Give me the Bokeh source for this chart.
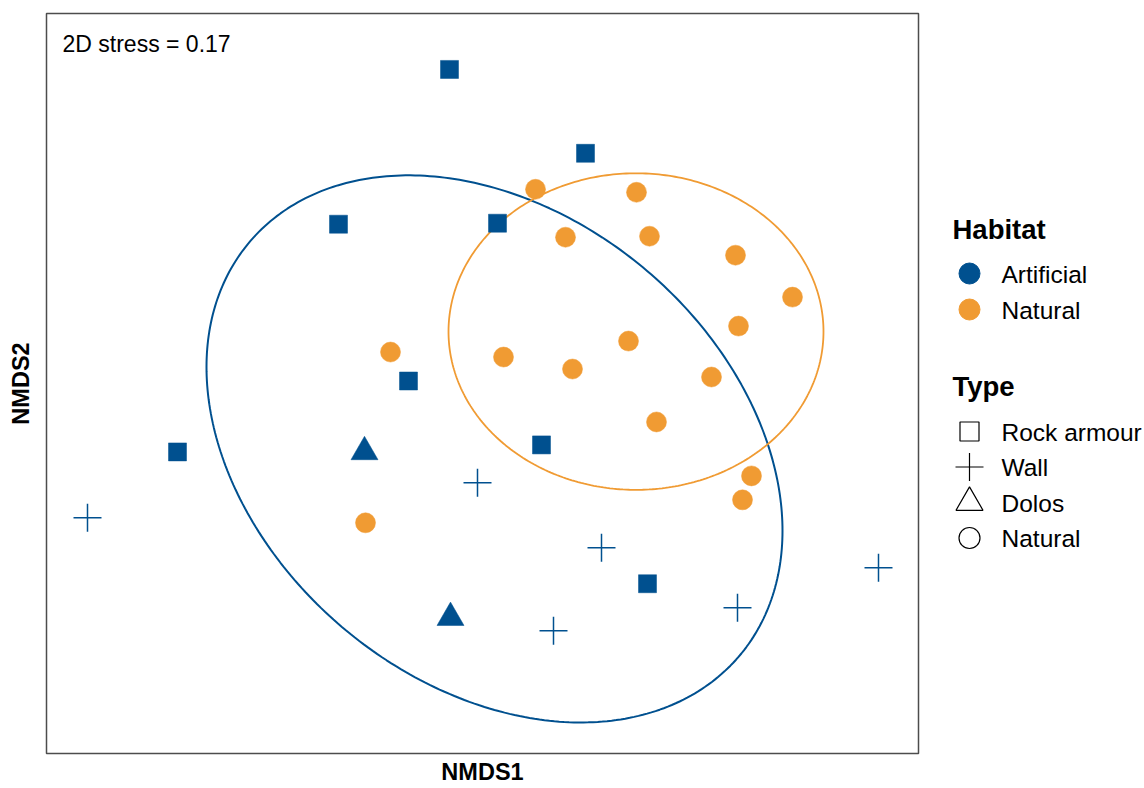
import numpy as np
from bokeh.plotting import figure
from bokeh.layouts import row
from bokeh.models import Range1d, FixedTicker, Label
from bokeh.core.properties import value
from bokeh.embed import file_html
from bokeh.resources import INLINE

BLUE = "#00508F"
ORANGE = "#F09B33"
FONT = "Liberation Sans"

# ---- data (NMDS site scores) ----
rock_x = [-0.0825, 0.2575, -0.36, 0.0375, -0.185, -0.7625, 0.1475, 0.4125]
rock_y = [0.785, 0.575, 0.3975, 0.40, 0.005, -0.1725, -0.155, -0.5025]

wall_x = [-0.9875, -0.0125, 0.2975, 0.1775, 0.6375, 0.99]
wall_y = [-0.3375, -0.25, -0.4125, -0.62, -0.5625, -0.4625]

dolos_x = [-0.295, -0.08]
dolos_y = [-0.1725, -0.5875]

nat_x = [0.1325, 0.385, 0.2075, 0.4175, 0.6325, 0.775, -0.23, 0.64,
         0.0525, 0.225, 0.365, 0.5725, 0.435, 0.6725, 0.65, -0.2925]
nat_y = [0.485, 0.4775, 0.365, 0.3675, 0.32, 0.215, 0.0775, 0.1425,
         0.065, 0.035, 0.105, 0.015, -0.0975, -0.2325, -0.2925, -0.35]

# 95% ellipse parameters per habitat: centre, variances, covariance
ell_habitat = ["Artificial", "Natural"]
ell_cx = [0.03, 0.38375]
ell_cy = [-0.165, 0.12875]
ell_sxx = [0.5184, 0.2197]
ell_syy = [0.469, 0.1570]
ell_sxy = [-0.1475, 0.0]

stress_label = "2D stress = 0.17"
habitat_levels = ["Artificial", "Natural"]
habitat_colors = [BLUE, ORANGE]
type_levels = ["Rock armour", "Wall", "Dolos", "Natural"]
type_markers = ["square", "cross", "triangle", "circle"]
type_sizes = [19, 28, 27, 21]

TOP, BOTTOM = 13, 35
H = 788

# ---------------- main panel ----------------
p = figure(width=920, height=H,
           x_range=Range1d(-1.09, 1.09), y_range=Range1d(-0.9275, 0.925),
           output_backend="svg", toolbar_location=None,
           min_border_left=46, min_border_right=2,
           min_border_top=TOP, min_border_bottom=BOTTOM)
p.grid.visible = False
p.background_fill_color = "white"
p.border_fill_color = "white"
p.outline_line_color = "#4D4D4D"
p.outline_line_width = 1.5

for ax in (p.xaxis[0], p.yaxis[0]):
    ax.ticker = FixedTicker(ticks=[])
    ax.major_tick_line_color = None
    ax.minor_tick_line_color = None
    ax.major_tick_out = 0
    ax.major_tick_in = 0
    ax.minor_tick_out = 0
    ax.minor_tick_in = 0
    ax.axis_line_color = None
    ax.major_label_text_font_size = "0px"
    ax.major_label_standoff = 0
    ax.axis_label_text_font = FONT
    ax.axis_label_text_font_style = "bold"
    ax.axis_label_text_font_size = "23.5px"
    ax.axis_label_text_color = "black"
p.xaxis.axis_label = "NMDS1"
p.yaxis.axis_label = "NMDS2"
p.xaxis.axis_label_standoff = 5
p.yaxis.axis_label_standoff = 13

# ellipses
ell_colors = {"Artificial": BLUE, "Natural": ORANGE}
ell_widths = {"Artificial": 2.0, "Natural": 1.8}
t = np.linspace(0, 2 * np.pi, 361)
for h, cx, cy, sxx, syy, sxy in zip(ell_habitat, ell_cx, ell_cy, ell_sxx, ell_syy, ell_sxy):
    L = np.linalg.cholesky(np.array([[sxx, sxy], [sxy, syy]]))
    pts = L @ np.vstack([np.cos(t), np.sin(t)])
    p.line(cx + pts[0], cy + pts[1], line_color=ell_colors[h], line_width=ell_widths[h])

# points
p.scatter(nat_x, nat_y, marker="circle", size=20, fill_color=ORANGE, line_color=ORANGE, line_width=0.5)
p.scatter(rock_x, rock_y, marker="square", size=18, fill_color=BLUE, line_color=BLUE, line_width=0.5)
p.scatter(dolos_x, dolos_y, marker="triangle", size=27, fill_color=BLUE, line_color=BLUE, line_width=0.5)
p.scatter(wall_x, wall_y, marker="cross", size=28, line_color=BLUE, line_width=1.5)

p.add_layout(Label(x=-1.05, y=0.8475, text=stress_label, text_font=FONT,
                   text_font_size="23px", text_baseline="middle", text_align="left",
                   text_color="black"))

# ---------------- legend panel ----------------
# frame of this panel is aligned with the main frame; y range maps page pixels
lg = figure(width=224, height=H, x_range=Range1d(920, 1144),
            y_range=Range1d(H - BOTTOM, TOP),
            output_backend="svg", toolbar_location=None,
            min_border_left=0, min_border_right=0,
            min_border_top=TOP, min_border_bottom=BOTTOM,
            x_axis_type=None, y_axis_type=None)
lg.grid.visible = False
lg.outline_line_color = None
lg.background_fill_color = "white"
lg.border_fill_color = "white"

title_x, key_x, label_x = 952, 969, 1001
hab_title_y, hab_key0, hab_pitch = 229, 273, 36
type_title_y, type_key0, type_pitch = 386, 431, 35.5
label_dy = 0.5

lg.text(x=[title_x, title_x], y=[hab_title_y, type_title_y], text=["Habitat", "Type"],
        text_font=value(FONT), text_font_size="27.5px", text_font_style="bold",
        text_baseline="middle", text_align="left", text_color="black")

hab_y = [hab_key0 + i * hab_pitch for i in range(len(habitat_levels))]
lg.scatter([key_x] * len(hab_y), hab_y, marker="circle", size=21,
           fill_color=habitat_colors, line_color=habitat_colors)
lg.text(x=[label_x] * len(hab_y), y=[y + label_dy for y in hab_y], text=habitat_levels,
        text_font=value(FONT), text_font_size="24.5px", text_baseline="middle",
        text_align="left", text_color="black")

type_y = [type_key0 + i * type_pitch for i in range(len(type_levels))]
for y, mk, sz in zip(type_y, type_markers, type_sizes):
    lg.scatter([key_x], [y], marker=mk, size=sz, fill_color=None,
               line_color="black", line_width=1.2)
lg.text(x=[label_x] * len(type_y), y=[y + label_dy for y in type_y], text=type_levels,
        text_font=value(FONT), text_font_size="24.5px", text_baseline="middle",
        text_align="left", text_color="black")

layout = row(p, lg, spacing=0)
open("out.html", "w").write(file_html(layout, INLINE))
